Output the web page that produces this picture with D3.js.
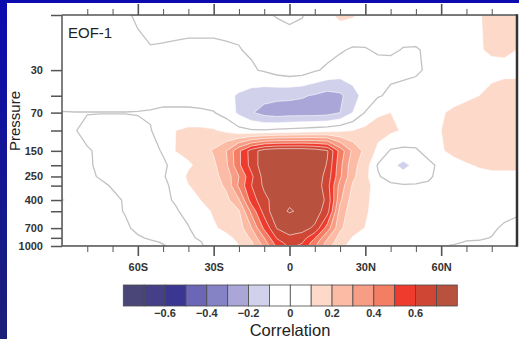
<!DOCTYPE html>
<html>
<head>
<meta charset="utf-8">
<script src="https://cdn.jsdelivr.net/npm/d3@7/dist/d3.min.js"></script>
<style>
  body { margin: 0; background: #fff; }
  svg { display: block; font-family: "Liberation Sans", Arial, Helvetica, sans-serif; }
</style>
</head>
<body>
<svg id="chart" width="519" height="339"></svg>
<script>
// grid: latitude (deg, 90S..90N) x pressure (hPa, top..bottom)
const lats = [-90,-85,-80,-75,-70,-65,-60,-55,-50,-45,-40,-35,-30,-25,-20,-15,-10,-5,0,5,10,15,20,25,30,35,40,45,50,55,60,65,70,75,80,85,90];
const levels = [10,20,30,50,70,100,150,200,250,300,400,500,700,850,925,1000];

// correlation with EOF-1, one row per level, 90S -> 90N
const r10   = [-0.05,-0.05,-0.05,-0.04,-0.03,-0.01,0.01,0.03,0.04,0.04,0.04,0.04,0.03,0.03,0.02,0.02,0.01,-0.004,-0.015,-0.004,0.03,0.08,0.12,0.11,0.07,0.05,0.04,0.04,0.05,0.05,0.05,0.06,0.07,0.095,0.12,0.13,0.13];
const r20   = [-0.05,-0.05,-0.05,-0.05,-0.04,-0.03,-0.015,-0.005,-0.01,-0.015,-0.02,-0.02,-0.015,-0.01,-0.003,0.01,0.03,0.04,0.04,0.04,0.04,0.03,0.01,-0.01,-0.005,0.01,0.01,-0.003,-0.005,0.01,0.03,0.05,0.07,0.095,0.11,0.11,0.1];
const r30   = [-0.05,-0.05,-0.05,-0.05,-0.05,-0.045,-0.04,-0.04,-0.04,-0.04,-0.04,-0.04,-0.04,-0.04,-0.03,-0.01,0.01,0.04,0.06,0.05,0.01,-0.015,-0.04,-0.04,-0.03,-0.03,-0.025,-0.02,-0.01,0.01,0.03,0.05,0.06,0.07,0.08,0.085,0.09];
const r50   = [-0.04,-0.04,-0.04,-0.04,-0.04,-0.04,-0.04,-0.04,-0.04,-0.04,-0.04,-0.045,-0.055,-0.08,-0.11,-0.14,-0.16,-0.17,-0.18,-0.19,-0.21,-0.24,-0.22,-0.14,-0.06,-0.01,0.02,0.03,0.03,0.04,0.05,0.06,0.08,0.1,0.12,0.13,0.12];
const r70   = [0.003,0.0015,0.0015,0.0015,0.0015,0.0015,0.003,0.008,0.02,0.02,0.02,0.015,0.005,-0.04,-0.12,-0.19,-0.24,-0.26,-0.25,-0.25,-0.25,-0.24,-0.2,-0.1,0.005,0.09,0.1,0.07,0.05,0.06,0.09,0.12,0.14,0.15,0.15,0.15,0.15];
const r100  = [0.01,0.002,-0.01,-0.02,-0.02,-0.02,-0.015,-0.004,0.04,0.1,0.12,0.12,0.11,0.08,0.03,0.01,0.01,0.02,0.03,0.04,0.05,0.06,0.08,0.1,0.13,0.13,0.12,0.09,0.06,0.07,0.1,0.13,0.15,0.16,0.16,0.16,0.16];
const r150  = [0.02,0.01,0.003,-0.005,-0.02,-0.02,-0.02,-0.01,0.003,0.105,0.13,0.16,0.21,0.3,0.48,0.65,0.75,0.78,0.78,0.78,0.76,0.71,0.46,0.28,0.17,0.08,-0.01,-0.02,-0.01,0.03,0.09,0.13,0.15,0.16,0.16,0.16,0.16];
const r200  = [0.02,0.01,0.004,-0.005,-0.02,-0.02,-0.02,-0.015,-0.005,0.01,0.085,0.13,0.18,0.28,0.48,0.64,0.76,0.79,0.79,0.79,0.78,0.69,0.43,0.23,0.15,-0.01,-0.07,-0.13,-0.07,-0.02,0.02,0.06,0.09,0.11,0.12,0.12,0.12];
const r250  = [0.02,0.012,0.005,-0.002,-0.02,-0.02,-0.02,-0.015,-0.006,0.03,0.12,0.14,0.17,0.24,0.4,0.58,0.74,0.78,0.79,0.79,0.77,0.66,0.42,0.22,0.13,0.01,-0.04,-0.06,-0.04,-0.01,0.02,0.04,0.06,0.07,0.08,0.08,0.08];
const r300  = [0.025,0.02,0.012,0.005,-0.002,-0.02,-0.02,-0.015,-0.008,0.01,0.098,0.12,0.15,0.22,0.42,0.6,0.72,0.78,0.79,0.79,0.77,0.64,0.36,0.19,0.13,0.06,0.02,0.01,0.01,0.01,0.02,0.03,0.03,0.04,0.04,0.04,0.04];
const r400  = [0.12,0.045,0.02,0.01,0.005,-0.002,-0.02,-0.02,-0.01,0.005,0.055,0.102,0.13,0.17,0.29,0.55,0.67,0.75,0.79,0.78,0.76,0.68,0.32,0.15,0.115,0.07,0.04,0.03,0.03,0.03,0.03,0.02,0.02,0.02,0.02,0.015,0.01];
const r500  = [0.03,0.02,0.015,0.01,0.004,-0.001,-0.015,-0.02,-0.015,-0.005,0.015,0.07,0.11,0.14,0.19,0.43,0.64,0.78,0.805,0.79,0.76,0.64,0.26,0.14,0.11,0.07,0.04,0.03,0.03,0.02,0.02,0.02,0.02,0.02,0.015,0.01,0.005];
const r700  = [0.025,0.02,0.015,0.01,0.007,0.003,-0.004,-0.015,-0.015,-0.01,-0.003,0.03,0.09,0.12,0.15,0.3,0.52,0.705,0.75,0.74,0.68,0.45,0.22,0.13,0.098,0.06,0.04,0.03,0.02,0.02,0.02,0.02,0.01,0.01,0.005,-0.005,-0.01];
const r850  = [0.02,0.018,0.015,0.01,0.008,0.005,0.002,-0.002,-0.01,-0.01,-0.006,0.005,0.04,0.08,0.12,0.22,0.4,0.61,0.68,0.65,0.51,0.31,0.16,0.095,0.07,0.05,0.04,0.03,0.02,0.02,0.01,0.01,0.005,0.004,-0.001,-0.01,-0.02];
const r925  = [0.02,0.018,0.015,0.012,0.01,0.007,0.005,0.002,-0.001,-0.008,-0.007,-0.001,0.02,0.06,0.11,0.19,0.36,0.56,0.65,0.61,0.45,0.27,0.14,0.08,0.06,0.04,0.03,0.02,0.02,0.01,0.01,0.005,-0.002,-0.003,-0.006,-0.012,-0.02];
const r1000 = [0.02,0.018,0.015,0.012,0.01,0.008,0.006,0.004,0.001,-0.004,-0.006,-0.002,0.01,0.05,0.098,0.18,0.32,0.52,0.62,0.58,0.42,0.24,0.12,0.07,0.05,0.03,0.02,0.015,0.01,0.005,0.002,-0.003,-0.008,-0.01,-0.015,-0.02,-0.03];
const corrRows = [r10, r20, r30, r50, r70, r100, r150, r200, r250, r300, r400, r500, r700, r850, r925, r1000];

const contourLevels = [-0.7,-0.6,-0.5,-0.4,-0.3,-0.2,-0.1,0,0.1,0.2,0.3,0.4,0.5,0.6,0.7];
const lineLevels = contourLevels.concat([0.8]);
const fillColors = ["#4a4678","#443f86","#3a3691","#6b66b6","#8682c6","#aaa6d8","#d2d1eb","#ffffff",
                    "#ffffff","#fdd9ca","#fbbba5","#f89d85","#f37e63","#ee3b2e","#cf4634","#b8513e"];
const cbTicks = [-0.6,-0.4,-0.2,0,0.2,0.4,0.6];
const pTicks = [10,30,50,70,100,150,200,250,300,400,500,700,850,1000];
const pLabels = [30,70,150,250,400,700,1000];
const latMajor = [-60,-30,0,30,60];
const latMinor = [-80,-70,-50,-40,-20,-10,10,20,40,50,70,80];

const svg = d3.select("#chart");
const plot = {left: 62, right: 517, top: 15, bottom: 246};

// page background: blue strips left and top
const defs = svg.append("defs");
const grad = defs.append("linearGradient").attr("id", "bg").attr("x1", 0).attr("y1", 0).attr("x2", 0).attr("y2", 1);
grad.append("stop").attr("offset", 0).attr("stop-color", "#0b0bb0");
grad.append("stop").attr("offset", 1).attr("stop-color", "#1c1f78");
svg.append("rect").attr("width", 519).attr("height", 339).attr("fill", "#fff");
svg.append("rect").attr("width", 7).attr("height", 339).attr("fill", "url(#bg)");
svg.append("rect").attr("width", 519).attr("height", 3).attr("fill", "#0b0bb0");

defs.append("clipPath").attr("id", "plotclip").append("rect")
  .attr("x", plot.left).attr("y", plot.top)
  .attr("width", plot.right - plot.left).attr("height", plot.bottom - plot.top);

const x = d3.scaleLinear().domain([-90, 90]).range([plot.left, plot.right]);
const y = d3.scaleLog().domain([1000, 10]).range([plot.bottom, plot.top]);

// contour grid -> data coords -> pixels
const nx = lats.length, ny = levels.length;
const values = corrRows.flat();
const latAt = d3.scaleLinear().domain([0, nx - 1]).range([lats[0], lats[nx - 1]]);
function presAt(j) {
  const j0 = Math.min(Math.floor(j), ny - 2), t = j - j0;
  return Math.exp(Math.log(levels[j0]) * (1 - t) + Math.log(levels[j0 + 1]) * t);
}
const clamp = (v, a, b) => Math.max(a, Math.min(b, v));
const proj = d3.geoTransform({
  point: function(gx, gy) {
    const i = clamp(gx - 0.5, 0, nx - 1), j = clamp(gy - 0.5, 0, ny - 1);
    this.stream.point(x(latAt(i)), y(presAt(j)));
  }
});
const path = d3.geoPath(proj);

const gPlot = svg.append("g").attr("clip-path", "url(#plotclip)");
gPlot.append("rect").attr("x", plot.left).attr("y", plot.top)
  .attr("width", plot.right - plot.left).attr("height", plot.bottom - plot.top)
  .attr("fill", fillColors[0]);

const fills = d3.contours().size([nx, ny]).thresholds(contourLevels)(values);
gPlot.append("g").selectAll("path")
  .data(fills)
  .join("path")
  .attr("d", path)
  .attr("fill", (d, i) => fillColors[i + 1]);

const lines = d3.contours().size([nx, ny]).thresholds(lineLevels)(values);
gPlot.append("g").selectAll("path")
  .data(lines.filter(d => Math.abs(d.value) > 1e-9))
  .join("path")
  .attr("d", path)
  .attr("fill", "none")
  .attr("stroke", "#fff")
  .attr("stroke-opacity", 0.65)
  .attr("stroke-width", 0.9);
gPlot.append("g").selectAll("path")
  .data(lines.filter(d => Math.abs(d.value) < 1e-9))
  .join("path")
  .attr("d", path)
  .attr("fill", "none")
  .attr("stroke", "#c2c2c2")
  .attr("stroke-width", 1.3);

// axes
const tickColor = "#555";
function styleAxis(g, w) {
  g.select(".domain").remove();
  g.selectAll(".tick line").attr("stroke", tickColor).attr("stroke-width", w);
  g.selectAll(".tick text").attr("fill", "#333").attr("font-size", 11).attr("font-weight", "bold")
    .attr("font-family", "'Liberation Sans', Arial, sans-serif");
}
const latFmt = d => d === 0 ? "0" : Math.abs(d) + (d < 0 ? "S" : "N");

svg.append("g").attr("transform", `translate(0,${plot.bottom})`)
  .call(d3.axisBottom(x).tickValues(latMajor).tickSize(10).tickPadding(7).tickFormat(latFmt))
  .call(g => styleAxis(g, 1.6));
svg.append("g").attr("transform", `translate(0,${plot.bottom})`)
  .call(d3.axisBottom(x).tickValues(latMinor).tickSize(6).tickFormat(""))
  .call(g => styleAxis(g, 1));
svg.append("g").attr("transform", `translate(0,${plot.top})`)
  .call(d3.axisTop(x).tickValues(latMajor).tickSize(11).tickFormat(""))
  .call(g => styleAxis(g, 1.6));
svg.append("g").attr("transform", `translate(0,${plot.top})`)
  .call(d3.axisTop(x).tickValues(latMinor).tickSize(6).tickFormat(""))
  .call(g => styleAxis(g, 1));
svg.append("g").attr("transform", `translate(${plot.left},0)`)
  .call(d3.axisLeft(y).tickValues(pTicks).tickSize(11).tickPadding(8)
    .tickFormat(d => pLabels.includes(d) ? String(d) : ""))
  .call(g => styleAxis(g, 1.5));

// frame
const frame = svg.append("g").attr("fill", "none");
frame.append("line").attr("x1", plot.left).attr("x2", plot.right).attr("y1", plot.top).attr("y2", plot.top)
  .attr("stroke", "#555").attr("stroke-width", 1.5);
frame.append("line").attr("x1", plot.left).attr("x2", plot.right).attr("y1", plot.bottom).attr("y2", plot.bottom)
  .attr("stroke", "#555").attr("stroke-width", 1.5);
frame.append("line").attr("x1", plot.left).attr("x2", plot.left).attr("y1", plot.top).attr("y2", plot.bottom)
  .attr("stroke", "#555").attr("stroke-width", 1.5);
frame.append("line").attr("x1", plot.right).attr("x2", plot.right).attr("y1", plot.top - 0.75).attr("y2", plot.bottom + 0.75)
  .attr("stroke", "#333").attr("stroke-width", 2.5);

svg.append("text").attr("x", 68).attr("y", 38).attr("font-size", 15).attr("fill", "#222").text("EOF-1");
svg.append("text").attr("transform", "translate(20,121) rotate(-90)").attr("text-anchor", "middle")
  .attr("font-size", 15).attr("fill", "#222").text("Pressure");

// colour bar
const cb = d3.scaleLinear().domain([-0.8, 0.8]).range([123.3, 457.3]);
const cbTop = 285, cbH = 21;
svg.append("g").selectAll("rect")
  .data(fillColors)
  .join("rect")
  .attr("x", (d, i) => cb(-0.8 + i * 0.1))
  .attr("width", cb(0.1) - cb(0))
  .attr("y", cbTop).attr("height", cbH)
  .attr("fill", d => d)
  .attr("stroke", "#4a4a4a").attr("stroke-width", 0.8);
svg.append("g").selectAll("text")
  .data(cbTicks)
  .join("text")
  .attr("x", d => cb(d)).attr("y", 317)
  .attr("text-anchor", "middle").attr("font-size", 11).attr("font-weight", "bold").attr("fill", "#333")
  .text(d => d === 0 ? "0" : d3.format(".1f")(d));
svg.append("text").attr("x", 290).attr("y", 336).attr("text-anchor", "middle")
  .attr("font-size", 16.5).attr("fill", "#222").text("Correlation");
</script>
</body>
</html>
